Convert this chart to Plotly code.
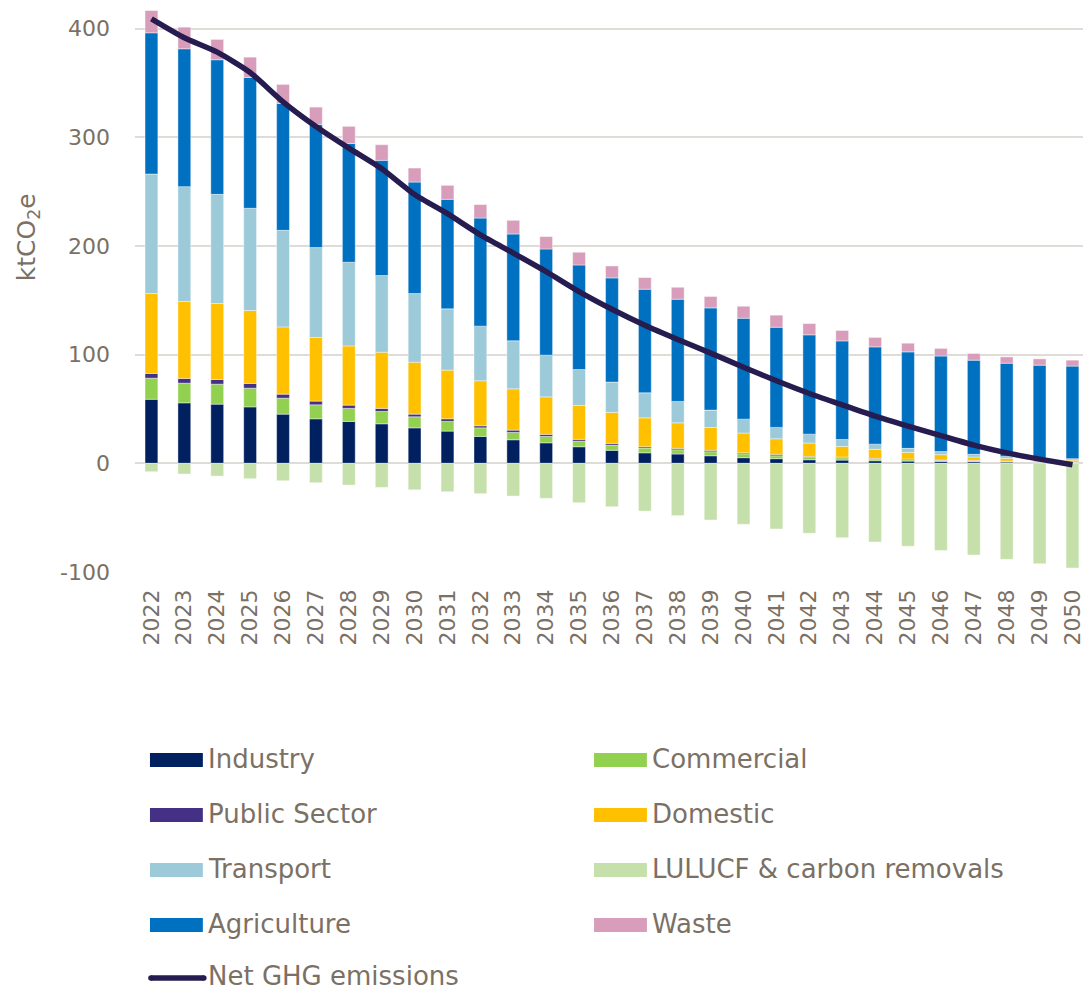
import plotly.graph_objects as go

# Emissions pathway by sector, ktCO2e
years = [str(y) for y in range(2022, 2051)]

industry = [59.0, 55.7, 54.5, 52.0, 45.3, 41.0, 38.6, 36.4, 32.7, 29.7, 24.8, 21.7, 18.9, 15.3, 12.0,
            9.7, 8.6, 7.0, 5.2, 4.3, 3.3, 3.0, 2.4, 2.1, 1.8, 1.5, 1.2, 0.9, 0.6]
commercial = [19.4, 18.1, 18.4, 17.2, 14.7, 12.9, 12.0, 11.4, 10.2, 8.9, 7.9, 6.8, 5.9, 5.2, 4.8,
              4.4, 3.9, 3.7, 3.6, 2.7, 2.2, 2.2, 1.6, 1.2, 1.0, 0.9, 0.6, 0.3, 0.3]
public_sector = [4.4, 4.4, 4.3, 4.4, 3.7, 3.4, 3.0, 2.8, 2.4, 2.4, 1.9, 2.1, 1.9, 1.6, 1.6,
                 1.2, 1.3, 1.3, 0.9, 1.3, 0.9, 0.6, 0.6, 0.7, 0.3, 0.4, 0.3, 0.3, 0.3]
domestic = [73.5, 70.8, 69.9, 67.1, 61.9, 58.6, 54.5, 51.7, 47.8, 44.8, 41.4, 38.0, 34.5, 31.2, 28.5,
            26.6, 23.5, 21.1, 18.2, 14.3, 12.3, 9.8, 8.3, 6.1, 4.9, 3.0, 2.5, 1.8, 1.8]
transport = [110.0, 105.7, 100.5, 94.1, 88.9, 82.7, 77.0, 70.6, 63.2, 56.4, 50.3, 44.2, 38.4, 33.1, 27.9,
             23.0, 19.7, 15.9, 12.8, 10.5, 8.2, 6.4, 4.8, 3.7, 2.8, 2.5, 1.8, 1.6, 1.3]
agriculture = [130.0, 126.9, 123.9, 120.4, 116.8, 113.4, 109.4, 106.0, 102.6, 100.8, 99.5, 98.3, 97.7, 96.2, 95.9,
               95.4, 94.1, 94.1, 92.9, 92.2, 91.4, 90.7, 89.5, 88.8, 88.0, 86.7, 85.8, 85.5, 85.2]
waste = [20.5, 19.9, 18.7, 18.7, 17.5, 15.9, 15.7, 14.4, 12.9, 12.9, 12.4, 12.6, 11.4, 11.7, 11.0,
         10.7, 11.0, 10.5, 11.0, 11.1, 10.4, 9.6, 8.7, 8.0, 7.0, 6.1, 5.8, 5.8, 5.5]
lulucf = [-7.7, -9.8, -11.7, -14.1, -16.0, -17.8, -20.0, -22.1, -24.3, -26.1, -27.9, -30.1, -32.2, -36.2, -39.9,
          -43.9, -48.1, -52.1, -56.1, -60.4, -64.4, -68.4, -72.4, -76.3, -80.3, -84.3, -88.3, -92.3, -96.3]

y_ticks = [-100, 0, 100, 200, 300, 400]
y_tick_labels = ["-100", "0", "100", "200", "300", "400"]

# Net emissions are the sum of every sector, removals included
net = [round(sum(v), 1) for v in zip(industry, commercial, public_sector, domestic,
                                     transport, agriculture, waste, lulucf)]

TEXT = "#7b7064"
GRID = "#dfdbd7"
FONT = "DejaVu Sans"
NET_COLOR = "#261c4f"
NET_WIDTH = 5.5

# Stacking order, bottom to top
stack = [
    ("Industry", industry, "#002060"),
    ("Commercial", commercial, "#92d050"),
    ("Public Sector", public_sector, "#443085"),
    ("Domestic", domestic, "#ffc000"),
    ("Transport", transport, "#9ccad8"),
    ("Agriculture", agriculture, "#0070c0"),
    ("Waste", waste, "#d89dba"),
    ("LULUCF & carbon removals", lulucf, "#c5e0aa"),
]
colors = {name: col for name, _, col in stack}

fig = go.Figure()
for name, vals, col in stack:
    fig.add_trace(go.Bar(
        x=years, y=vals, name=name, marker_color=col,
        marker_line=dict(width=0.6, color="rgba(255,255,255,0.7)"),
        showlegend=False,
    ))

fig.add_trace(go.Scatter(
    x=years, y=net, name="Net GHG emissions", mode="lines",
    line=dict(color=NET_COLOR, width=NET_WIDTH, shape="spline", smoothing=0.6),
    showlegend=False,
))

# Plot-area geometry in pixels
W, H = 1085, 993
L, R, T, B = 135, 0, 0, 421
pw, ph = W - L - R, H - T - B


def px_x(px):
    return (px - L) / pw


def px_y(py):
    return (T + ph - py) / ph


# Two-column legend drawn below the chart
legend_rows = [
    ("Industry", "Commercial"),
    ("Public Sector", "Domestic"),
    ("Transport", "LULUCF & carbon removals"),
    ("Agriculture", "Waste"),
    ("Net GHG emissions", None),
]
col_x = [150, 595]
row_y0, row_dy = 760, 55
sw_w, sw_h = 53, 14
shapes, annotations = [], []
for r, row in enumerate(legend_rows):
    cy = row_y0 + r * row_dy
    for c, name in enumerate(row):
        if name is None:
            continue
        x0 = col_x[c]
        if name == "Net GHG emissions":
            cy = 978
            half = NET_WIDTH / 2
            # rounded line sample: a bar with two round ends
            shapes.append(dict(type="rect", xref="paper", yref="paper",
                               x0=px_x(x0 + 1), x1=px_x(x0 + sw_w + 1),
                               y0=px_y(cy + half), y1=px_y(cy - half),
                               fillcolor=NET_COLOR, line=dict(width=0)))
            for ex in (x0 + 1, x0 + sw_w + 1):
                shapes.append(dict(type="circle", xref="paper", yref="paper",
                                   x0=px_x(ex - half), x1=px_x(ex + half),
                                   y0=px_y(cy + half), y1=px_y(cy - half),
                                   fillcolor=NET_COLOR, line=dict(width=0)))
        annotations_y = cy - 1 if name != "Net GHG emissions" else cy - 2
        if name != "Net GHG emissions":
            shapes.append(dict(type="rect", xref="paper", yref="paper",
                               x0=px_x(x0), x1=px_x(x0 + sw_w),
                               y0=px_y(cy + sw_h / 2), y1=px_y(cy - sw_h / 2),
                               fillcolor=colors[name], line=dict(width=0)))
        annotations.append(dict(xref="paper", yref="paper", x=px_x(x0 + sw_w + 3), y=px_y(annotations_y),
                                xanchor="left", yanchor="middle", showarrow=False,
                                text=name, font=dict(family=FONT, size=26, color=TEXT)))

# Axis title
annotations.append(dict(xref="paper", yref="paper", x=px_x(28), y=px_y(237),
                        xanchor="center", yanchor="middle", showarrow=False, textangle=-90,
                        text="ktCO<sub>2</sub>e", font=dict(family=FONT, size=25, color=TEXT)))

fig.update_layout(
    width=W, height=H,
    margin=dict(l=L, r=R, t=T, b=B),
    barmode="relative",
    bargap=0.61,
    plot_bgcolor="white",
    paper_bgcolor="white",
    font=dict(family=FONT, color=TEXT),
    shapes=shapes,
    annotations=annotations,
    showlegend=False,
)
fig.update_xaxes(
    type="category", range=[-0.5, 28.32], tickangle=-90,
    tickfont=dict(family=FONT, size=22, color=TEXT),
    showgrid=False, showline=False, ticks="", ticklabelstandoff=12,
)
fig.update_yaxes(
    range=[-100, 426.5], tickvals=y_ticks, ticktext=y_tick_labels,
    tickfont=dict(family=FONT, size=22, color=TEXT),
    showgrid=True, gridcolor=GRID, gridwidth=1.5,
    zeroline=False, showline=False, ticks="", ticklabelstandoff=24,
)

fig.write_html("out.html")
